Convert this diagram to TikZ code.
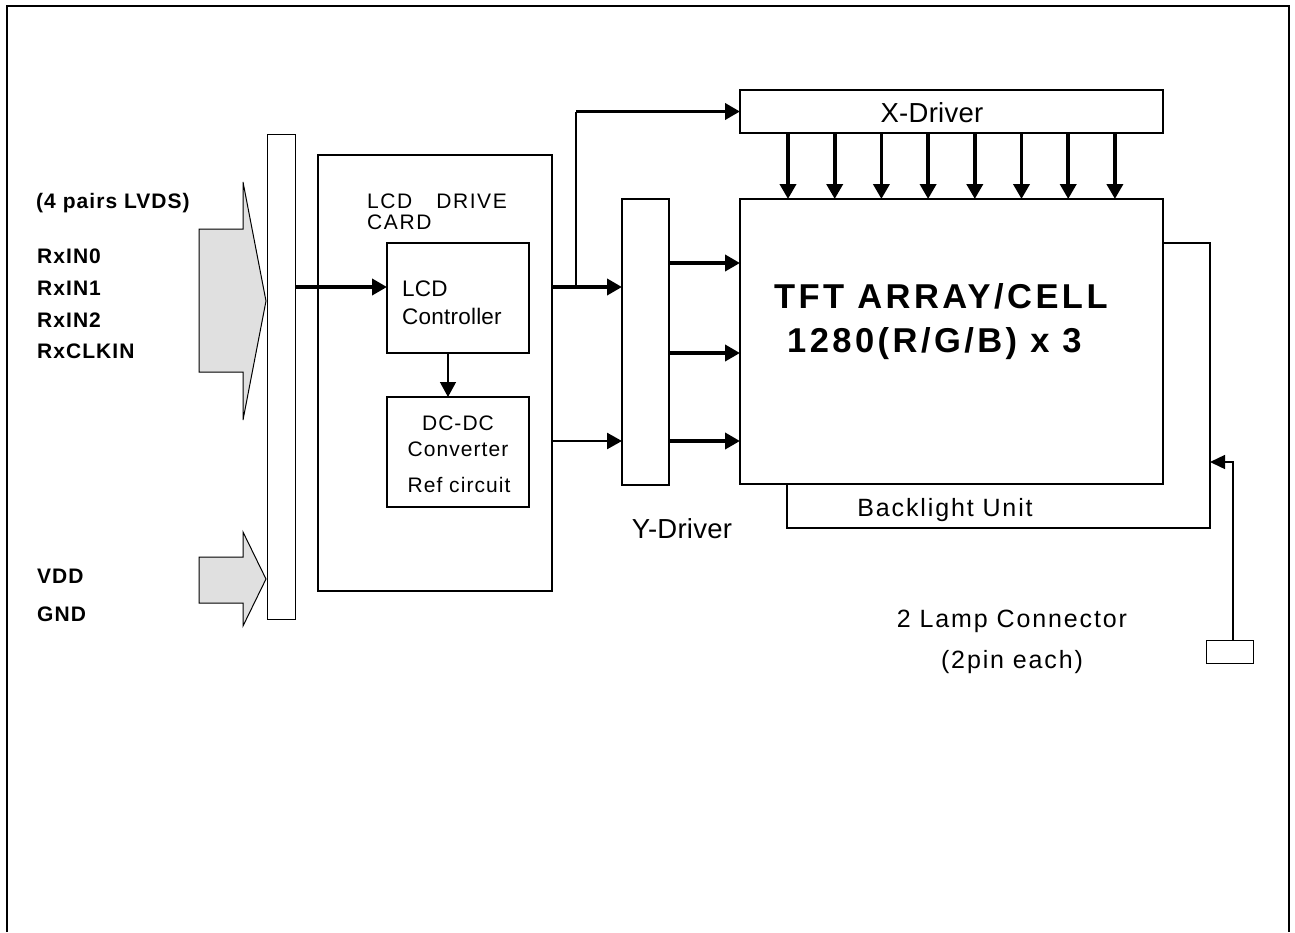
\documentclass[tikz,border=0pt]{standalone}
\usepackage{fontspec}
\setmainfont{Liberation Sans}
\newfontfamily\fa[LetterSpace=5]{Liberation Sans}
\newfontfamily\fb[LetterSpace=7.5]{Liberation Sans}
\newfontfamily\fc[LetterSpace=10]{Liberation Sans}
\newfontfamily\fd[LetterSpace=1]{Liberation Sans}
\usetikzlibrary{arrows.meta}
\tikzset{
  box/.style={draw, line width=2pt, inner sep=0pt, outer sep=0pt, anchor=north west},
  thinbox/.style={box, line width=1pt},
  lbl/.style={inner sep=0pt, anchor=base west},
  clbl/.style={inner sep=0pt, anchor=base},
  arr/.style={-{Triangle[length=15pt,width=16pt]}},
  fat/.style={line width=3.8pt},
  mid/.style={line width=2.5pt},
  grayarrow/.style={draw, line width=1pt, fill=black!12},
  boldlbl/.style={lbl, font=\fa\bfseries\fontsize{21}{25}\selectfont},
  reglbl/.style={font=\fb\fontsize{25}{30}\selectfont},
}
\begin{document}
\begin{tikzpicture}[x=1pt,y=-1pt]
\useasboundingbox (0,0) rectangle (1295,932);
\draw[line width=2pt] (7,932) -- (7,6) -- (1289,6) -- (1289,932);

% input arrows
\draw[grayarrow] (199,229) -- (243,229) -- (243,182) -- (266,301) -- (243,420) -- (243,372) -- (199,372) -- cycle;
\draw[grayarrow] (199,557) -- (243,557) -- (243,532) -- (266,579) -- (243,626) -- (243,603) -- (199,603) -- cycle;

% blocks
\node[thinbox, minimum width=28, minimum height=485] (bar) at (267,134) {};
\node[box, minimum width=234, minimum height=436] (card) at (318,155) {};
\node[box, minimum width=142, minimum height=110] (ctrl) at (387,243) {};
\node[box, minimum width=142, minimum height=110] (dcdc) at (387,397) {};
\node[box, minimum width=47, minimum height=286] (ydrv) at (622,199) {};
\node[box, line width=1.5pt, minimum width=423, minimum height=285] (bl) at (787,243) {};
\node[box, fill=white, minimum width=423, minimum height=285] (tft) at (740,199) {};
\node[box, minimum width=423, minimum height=43] (xdrv) at (740,90) {};
\node[thinbox, minimum width=47, minimum height=23] (lamp) at (1206,640) {};

% labels
\node[boldlbl] (l0) at (36,208) {(4 pairs LVDS)};
\node[boldlbl] (l1) at (37,263) {RxIN0};
\node[boldlbl] (l2) at (37,295) {RxIN1};
\node[boldlbl] (l3) at (37,327) {RxIN2};
\node[boldlbl] (l4) at (37,358) {RxCLKIN};
\node[boldlbl] (l5) at (37,583) {VDD};
\node[boldlbl] (l6) at (37,621) {GND};

\node[lbl, font=\fb\fontsize{21}{25}\selectfont] (c1) at (367,208) {LCD\hspace{24pt}DRIVE};
\node[lbl, font=\fb\fontsize{21}{25}\selectfont] (c2) at (367,229) {CARD};
\node[lbl, font=\fd\fontsize{22.5}{26}\selectfont] (c3) at (402,296) {LCD};
\node[lbl, font=\fd\fontsize{22.5}{26}\selectfont] (c4) at (402,324) {Controller};
\node[clbl, font=\fa\fontsize{21}{25}\selectfont] (d1) at (458,430) {DC-DC};
\node[clbl, font=\fa\fontsize{21}{25}\selectfont] (d2) at (458,456) {Converter};
\node[clbl, font=\fa\fontsize{21}{25}\selectfont] (d3) at (459,492) {Ref circuit};

\node[clbl, font=\fd\fontsize{27.5}{32}\selectfont] (xl) at (932,122) {X-Driver};
\node[clbl, font=\fd\fontsize{27.5}{32}\selectfont] (yl) at (682,538) {Y-Driver};
\node[lbl, font=\fc\bfseries\fontsize{34.5}{38}\selectfont] (tf1) at (774,308) {TFT ARRAY/CELL};
\node[lbl, font=\fc\bfseries\fontsize{34.5}{38}\selectfont] (tf2) at (787,352) {1280(R/G/B) x 3};
\node[clbl, reglbl] (bll) at (945,516) {Backlight Unit};
\node[clbl, reglbl] (lc1) at (1012,627) {2 Lamp Connector};
\node[clbl, reglbl] (lc2) at (1012,668) {(2pin each)};

% connectors
\coordinate (r1) at (0,287);
\coordinate (r2) at (0,441);
\coordinate (jn) at (576,287);
\draw[fat, arr] (bar.east |- r1) -- (ctrl.west |- r1);
\draw[fat, arr] (card.east |- r1) -- (ydrv.west |- r1);
\draw[mid] (jn) -- (jn |- xdrv.west);
\draw[fat, arr] (jn |- xdrv.west) -- (xdrv.west);
\draw[mid, arr] (card.east |- r2) -- (ydrv.west |- r2);
\foreach \yy in {263,353,441} {
  \coordinate (t) at (0,\yy);
  \draw[fat, arr] (ydrv.east |- t) -- (tft.west |- t);
}
\foreach \i in {0,...,7} {
  \coordinate (t) at ({788+46.7*\i},0);
  \draw[fat, arr] (xdrv.south -| t) -- (tft.north -| t);
}
\coordinate (cx) at (448,0);
\draw[line width=1.3pt, arr] (ctrl.south -| cx) -- (dcdc.north -| cx);
\coordinate (lx) at (1233,462);
\draw[line width=1.5pt, -{Triangle[length=15pt,width=14pt]}] (lamp.north -| lx) -- (lx) -- (bl.east |- lx);
\end{tikzpicture}
\end{document}
